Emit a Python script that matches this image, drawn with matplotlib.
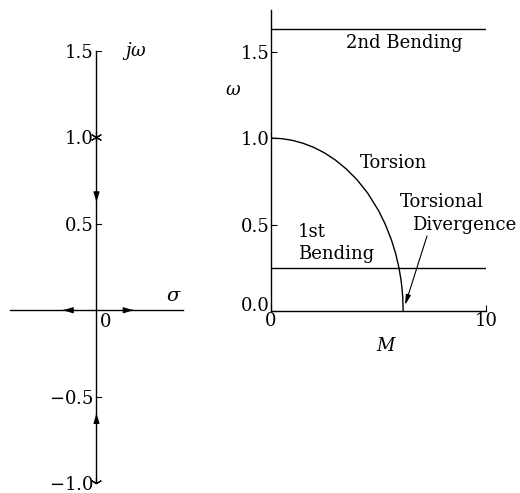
import matplotlib.pyplot as plt
from matplotlib.transforms import ScaledTranslation

plt.rcParams['font.family'] = ['DejaVu Serif']
plt.rcParams['mathtext.fontset'] = 'dejavuserif'

# root locus (left): poles on the imaginary axis and direction arrows
pole_im = [1.0, -1.0]
arrow_im = [0.61, -0.58]          # arrows along jw axis (toward origin)
arrow_re = [-0.21, 0.23]          # arrows along sigma axis (away from origin)
left_yticks = [-1.0, -0.5, 0.5, 1.0, 1.5]
left_ylabels = ['$-1.0$', '$-0.5$', '0.5', '1.0', '1.5']

# frequency vs. M (right)
M_torsion = [0.0, 0.5, 1.0, 1.5, 2.0, 2.5, 3.0, 3.5, 4.0, 4.5, 5.0, 5.3, 5.6,
             5.8, 5.95, 6.05, 6.1, 6.13, 6.15]
w_torsion = [1.0, 0.997, 0.987, 0.970, 0.946, 0.914, 0.873, 0.822, 0.760,
             0.682, 0.582, 0.507, 0.413, 0.333, 0.253, 0.180, 0.127, 0.081, 0.0]
w_bend1 = 0.25
w_bend2 = 1.63
M_div = 6.15

fig = plt.figure(figsize=(5.2, 4.93), dpi=100)

# ---- left: s-plane
ax1 = fig.add_axes([0.0192, 0.0203, 0.3327, 0.876])
ax1.set_xlim(-0.5, 0.5)
ax1.set_ylim(-1.0, 1.5)
ax1.spines['left'].set_position('zero')
ax1.spines['bottom'].set_position('zero')
ax1.spines['right'].set_visible(False)
ax1.spines['top'].set_visible(False)
for s in ax1.spines.values():
    s.set_linewidth(1.0)
ax1.set_xticks([])
ax1.set_yticks(left_yticks)
ax1.set_yticklabels(left_ylabels, fontsize=13)
ax1.tick_params(axis='y', direction='in', length=0, pad=2)
for yt in [0.5, -0.5, 1.5]:
    ax1.plot([0, 0.025], [yt, yt], color='black', lw=0.8)

ax1.plot([0] * len(pole_im), pole_im, linestyle='none', marker=(6, 2, 0),
         color='black', markersize=8, mew=0.8)

hp = dict(arrowstyle='-|>,head_length=0.6,head_width=0.18', color='black', lw=0.8)
for a in arrow_im:
    d = -0.04 if a > 0 else 0.04
    ax1.annotate('', xy=(0, a), xytext=(0, a - d), arrowprops=hp)
for a in arrow_re:
    d = 0.04 if a > 0 else -0.04
    ax1.annotate('', xy=(a, 0), xytext=(a - d, 0), arrowprops=hp)

ax1.text(0.15, 1.5, r'$j\omega$', fontsize=13, va='center', ha='left')
ax1.text(0.45, 0.08, r'$\sigma$', fontsize=14, va='center', ha='center')
ax1.text(0.05, -0.07, '0', fontsize=13, va='center', ha='center')

# ---- right: frequency vs. M
ax2 = fig.add_axes([0.521, 0.369, 0.4135, 0.6105])
ax2.set_xlim(0, 10)
ax2.set_ylim(0, 1.74)
ax2.spines['right'].set_visible(False)
ax2.spines['top'].set_visible(False)
for s in ax2.spines.values():
    s.set_linewidth(1.0)
ax2.set_xticks([0, 10])
ax2.set_yticks([0.0, 0.5, 1.0, 1.5])
ax2.set_yticklabels(['0.0', '0.5', '1.0', '1.5'])
ax2.tick_params(direction='in', length=4, width=0.8, labelsize=13, pad=1)
# lift the 0.0 label a little so it clears the x tick label
lbl0 = ax2.get_yticklabels()[0]
lbl0.set_transform(lbl0.get_transform() + ScaledTranslation(0, 5 / 72, fig.dpi_scale_trans))

ax2.plot(M_torsion, w_torsion, color='black', lw=1.0)
ax2.axhline(w_bend1, color='black', lw=1.0)
ax2.axhline(w_bend2, color='black', lw=1.0)

fs = 13
ax2.text(6.2, 1.55, '2nd Bending', fontsize=fs, ha='center', va='center')
ax2.text(5.7, 0.855, 'Torsion', fontsize=fs, ha='center', va='center')
ax2.text(1.25, 0.46, '1st', fontsize=fs, ha='left', va='center')
ax2.text(1.25, 0.33, 'Bending', fontsize=fs, ha='left', va='center')
ax2.text(7.95, 0.63, 'Torsional', fontsize=fs, ha='center', va='center')
ax2.text(9.0, 0.50, 'Divergence', fontsize=fs, ha='center', va='center',
         clip_on=False)
ax2.annotate('', xy=(M_div + 0.05, 0.02), xytext=(7.3, 0.45),
             arrowprops=dict(arrowstyle='-|>,head_length=0.6,head_width=0.15',
                             color='black', lw=0.8))

ax2.text(-1.75, 1.28, r'$\omega$', fontsize=13, ha='center', va='center')
ax2.text(5.4, -0.2, r'$M$', fontsize=13, ha='center', va='center')

fig.savefig('out.png', dpi=100)
